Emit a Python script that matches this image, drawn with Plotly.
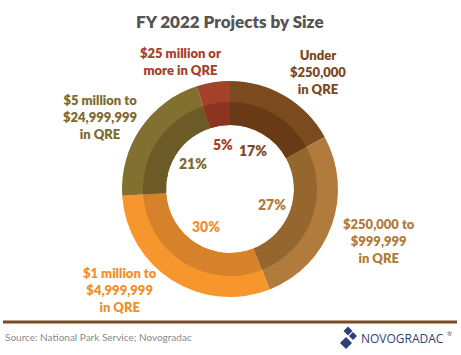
import math
import plotly.graph_objects as go

# ---- data ----
categories = ["Under $250,000 in QRE", "$250,000 to $999,999 in QRE",
              "$1 million to $4,999,999 in QRE", "$5 million to $24,999,999 in QRE",
              "$25 million or more in QRE"]
label_lines = ["Under<br>$250,000<br>in QRE", "$250,000 to<br>$999,999<br>in QRE",
               "$1 million to<br>$4,999,999<br>in QRE", "$5 million to<br>$24,999,999<br>in QRE",
               "$25 million or<br>more in QRE"]
shares = [17, 27, 30, 21, 5]

outer_colors = ["#7B4A1F", "#B07B3C", "#F6962C", "#827030", "#A5402A"]
inner_colors = ["#683B16", "#96662F", "#D5822A", "#6D5B27", "#8D3421"]
text_colors = ["#7B4A1F", "#B07B3C", "#F0902A", "#7D6A2E", "#A5402A"]

W, H = 461, 355
CX, CY = 230, 189
R_OUT, R_MID, R_IN = 108, 87, 64

def px(x):
    return x / W

def py(y):
    return 1 - y / H

def dom(r):
    return dict(x=[px(CX - r), px(CX + r)], y=[py(CY + r), py(CY - r)])

fig = go.Figure()
fig.add_trace(go.Pie(
    values=shares, labels=categories, sort=False, direction="clockwise", rotation=0,
    hole=R_IN / R_OUT, domain=dom(R_OUT), textinfo="none", hoverinfo="label+percent",
    marker=dict(colors=outer_colors, line=dict(width=0)), showlegend=False))
fig.add_trace(go.Pie(
    values=shares, labels=categories, sort=False, direction="clockwise", rotation=0,
    hole=R_IN / R_MID, domain=dom(R_MID), textinfo="none", hoverinfo="label+percent",
    marker=dict(colors=inner_colors, line=dict(width=0)), showlegend=False))

FONT = "Lato"
annotations = []
# percentage labels inside the hole, placed at slice mid-angle
total = sum(shares)
cum = 0
for v, c in zip(shares, text_colors):
    mid = (cum + v / 2) / total * 2 * math.pi
    cum += v
    r = 45
    x = CX + r * math.sin(mid)
    y = CY - r * math.cos(mid)
    annotations.append(dict(x=px(x), y=py(y), xref="paper", yref="paper",
                            xanchor="center", yanchor="middle",
                            text=f"{v}%", showarrow=False,
                            font=dict(family=FONT, size=14, color=c, weight=800)))

# category labels
label_pos = [(318, 72), (379, 241), (120, 290), (100, 117), (180, 62)]
for t, (x, y), c in zip(label_lines, label_pos, text_colors):
    annotations.append(dict(x=px(x), y=py(y), xref="paper", yref="paper", text=t,
                            xanchor="center", yanchor="middle",
                            showarrow=False, align="center",
                            font=dict(family=FONT, size=13, color=c, weight=800)))

# title
annotations.append(dict(x=px(230), y=py(21), xref="paper", yref="paper",
                        xanchor="center", yanchor="middle",
                        text="FY 2022 Projects by Size", showarrow=False,
                        font=dict(family=FONT, size=17, color="#555555", weight=800)))
# source
annotations.append(dict(x=px(3), y=py(337), xref="paper", yref="paper",
                        xanchor="left", yanchor="middle",
                        text="Source: National Park Service; Novogradac", showarrow=False,
                        font=dict(family=FONT, size=10, color="#8a8a8a")))
# logo text
annotations.append(dict(x=px(359), y=py(338), xref="paper", yref="paper",
                        xanchor="left", yanchor="middle",
                        text="NOVOGRADAC", showarrow=False,
                        font=dict(family="Open Sans", size=12, color="#2E3F7C")))
annotations.append(dict(x=px(445), y=py(334), xref="paper", yref="paper",
                        xanchor="left", yanchor="middle",
                        text="®", showarrow=False,
                        font=dict(family="Open Sans", size=6, color="#2E3F7C")))

shapes = [
    dict(type="line", xref="paper", yref="paper", x0=px(3), x1=px(457), y0=py(322), y1=py(322),
         line=dict(color="#7B4A1F", width=3)),
]

def diamond(cx, cy, r):
    return dict(type="path", xref="paper", yref="paper",
                path=f"M {px(cx)} {py(cy - r)} L {px(cx + r)} {py(cy)} L {px(cx)} {py(cy + r)} L {px(cx - r)} {py(cy)} Z",
                fillcolor="#2E3F7C", line=dict(width=0))

shapes += [diamond(348, 331, 4.5), diamond(353, 336, 4), diamond(346, 343, 6)]

fig.update_layout(
    width=W, height=H, margin=dict(l=0, r=0, t=0, b=0),
    paper_bgcolor="white", plot_bgcolor="white",
    annotations=annotations, shapes=shapes,
)

fig.write_html("out.html", config={"displayModeBar": False},
               post_script="document.body.style.margin='0';document.body.style.overflow='hidden';")
